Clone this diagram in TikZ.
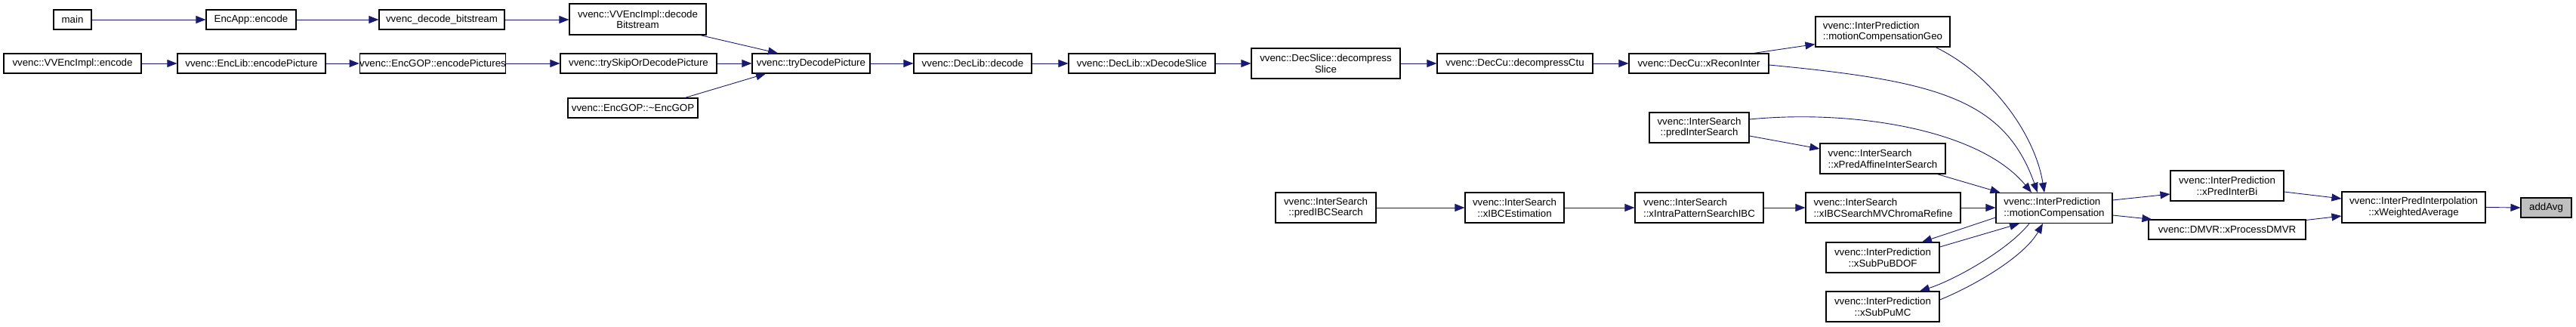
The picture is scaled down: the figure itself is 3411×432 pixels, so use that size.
\documentclass[tikz,border=0pt]{standalone}
\usepackage{fontspec}
\setmainfont{Liberation Sans}
\usetikzlibrary{arrows.meta,calc}
\definecolor{edgecol}{HTML}{191970}
\definecolor{hlfill}{HTML}{BFBFBF}
\begin{document}
\begin{tikzpicture}[x=1pt,y=-1pt,
  fn/.style={draw=black, line width=1.1pt, fill=white, inner sep=0pt,
    font=\fontsize{13.3}{14.5}\selectfont, align=center},
  fnl/.style={fn, align=left},
  one/.style={minimum height=26},
  two/.style={minimum height=40},
  call/.style={draw=edgecol, line width=0.9pt, -{Triangle[length=13pt,width=10pt]}},
]
\useasboundingbox (0,0) rectangle (3411,432);

% row 1
\node[fn, one, minimum width=50] (main) at (96,26) {main};
\node[fn, one, minimum width=119] (eae) at (332.5,26) {EncApp::encode};
\node[fn, one, minimum width=166] (vdb) at (585,26) {vvenc\_decode\_bitstream};
\node[fn, minimum height=41, minimum width=181] (vdbs) at (844.5,25.5) {vvenc::VVEncImpl::decode\\Bitstream};
% row 2
\node[fn, one, minimum width=182] (vie) at (96,84) {vvenc::VVEncImpl::encode};
\node[fn, one, minimum width=196] (elp) at (333,84) {vvenc::EncLib::encodePicture};
\node[fn, one, minimum width=190] (egp) at (573,84) {vvenc::EncGOP::encodePictures};
\node[fn, one, minimum width=207] (tsd) at (845.5,84) {vvenc::trySkipOrDecodePicture};
\node[fn, one, minimum width=172] (neg) at (838,143) {vvenc::EncGOP::\textasciitilde EncGOP};
\node[fn, one, minimum width=156] (tdp) at (1074,84) {vvenc::tryDecodePicture};
\node[fn, one, minimum width=156] (dld) at (1288,84) {vvenc::DecLib::decode};
\node[fn, one, minimum width=194] (xds) at (1512,84) {vvenc::DecLib::xDecodeSlice};
\node[fn, two, minimum width=197] (dss) at (1755.5,84) {vvenc::DecSlice::decompress\\Slice};
\node[fn, one, minimum width=206] (dct) at (2006,84) {vvenc::DecCu::decompressCtu};
\node[fn, one, minimum width=185] (xri) at (2249.5,84) {vvenc::DecCu::xReconInter};
\node[fnl, two, minimum width=178] (mcg) at (2493,42) {vvenc::InterPrediction\\::motionCompensationGeo};
\node[fn, two, minimum width=132] (pis) at (2250,169) {vvenc::InterSearch\\::predInterSearch};
\node[fnl, two, minimum width=166] (xpa) at (2493,210) {vvenc::InterSearch\\::xPredAffineInterSearch};
% IBC row
\node[fn, two, minimum width=133] (pib) at (1755.5,275) {vvenc::InterSearch\\::predIBCSearch};
\node[fn, two, minimum width=131] (xie) at (2005.5,275) {vvenc::InterSearch\\::xIBCEstimation};
\node[fnl, two, minimum width=170] (xip) at (2250,275) {vvenc::InterSearch\\::xIntraPatternSearchIBC};
\node[fnl, two, minimum width=205] (xmv) at (2493.5,275) {vvenc::InterSearch\\::xIBCSearchMVChromaRefine};
\node[fnl, two, minimum width=154] (mc) at (2720,275.5) {vvenc::InterPrediction\\::motionCompensation};
\node[fn, two, minimum width=150] (xbd) at (2493,341) {vvenc::InterPrediction\\::xSubPuBDOF};
\node[fn, two, minimum width=150] (xmc) at (2493,406) {vvenc::InterPrediction\\::xSubPuMC};
\node[fn, two, minimum width=150] (xpb) at (2949,246) {vvenc::InterPrediction\\::xPredInterBi};
\node[fn, one, minimum width=208] (dmv) at (2949,304) {vvenc::DMVR::xProcessDMVR};
\node[fn, minimum height=41, minimum width=190] (xwa) at (3196,274.5) {vvenc::InterPredInterpolation\\::xWeightedAverage};
\node[fn, one, minimum width=67, fill=hlfill] (aa) at (3371.5,275) {addAvg};

% edges
\draw[call] (main.east) -- (eae.west);
\draw[call] (eae.east) -- (vdb.west);
\draw[call] (vdb.east) -- (vdb.east -| vdbs.west);
\draw[call] ($(vdbs.south)+(82.5,0)$) -- ($(tdp.north)+(-44,0)$);
\draw[call] (vie.east) -- (elp.west);
\draw[call] (elp.east) -- (egp.west);
\draw[call] (egp.east) -- (tsd.west);
\draw[call] (tsd.east) -- (tdp.west);
\draw[call] ($(neg.north)+(69,0)$) -- ($(tdp.south)+(-60,0)$);
\draw[call] (tdp.east) -- (dld.west);
\draw[call] (dld.east) -- (xds.west);
\draw[call] (xds.east) -- (dss.west);
\draw[call] (dss.east) -- (dct.west);
\draw[call] (dct.east) -- (xri.west);
\draw[call] ($(xri.north)+(72.5,0)$) -- ($(mcg.south west)+(0,-4)$);
\draw[call] ($(xri.east)+(0,2)$) .. controls (2562,107) and (2654,130) .. ($(mc.north)+(-22,0)$);
\draw[call] ($(mcg.south)+(70,0)$) .. controls (2640,100) and (2695,180) .. ($(mc.north)+(-13,0)$);
\draw[call] ($(pis.east)+(0,-11)$) .. controls (2450,145) and (2620,170) .. ($(mc.north)+(-30,0)$);
\draw[call] ($(pis.east)+(0,11)$) -- ($(xpa.west)+(0,-13)$);
\draw[call] ($(xpa.south)+(72,0)$) -- ($(mc.north west)+(6,0)$);
\draw[call] (pib.east) -- (xie.west);
\draw[call] (xie.east) -- (xip.west);
\draw[call] (xip.east) -- (xmv.west);
\draw[call] (xmv.east) -- (xmv.east -| mc.west);
\draw[call] ($(mc.west)+(0,12.5)$) -- ($(xbd.north)+(52,0)$);
\draw[call] ($(xbd.east)+(0,-14)$) -- ($(mc.south)+(-46,0)$);
\draw[call] ($(mc.south)+(-33,0)$) .. controls (2660,330) and (2590,370) .. ($(xmc.north)+(49,0)$);
\draw[call] ($(xmc.east)+(0,-9)$) .. controls (2615,378) and (2680,340) .. ($(mc.south)+(-15,0)$);
\draw[call] ($(mc.east)+(0,-10.5)$) -- ($(xpb.west)+(0,11)$);
\draw[call] ($(mc.east)+(0,9.5)$) -- ($(dmv.north west)+(5,0)$);
\draw[call] ($(xpb.east)+(0,8)$) -- ($(xwa.west)+(0,-11.5)$);
\draw[call] ($(dmv.north east)+(0,1)$) -- ($(xwa.west)+(0,11.5)$);
\draw[call] (xwa.east) -- (aa.west);
\end{tikzpicture}
\end{document}
